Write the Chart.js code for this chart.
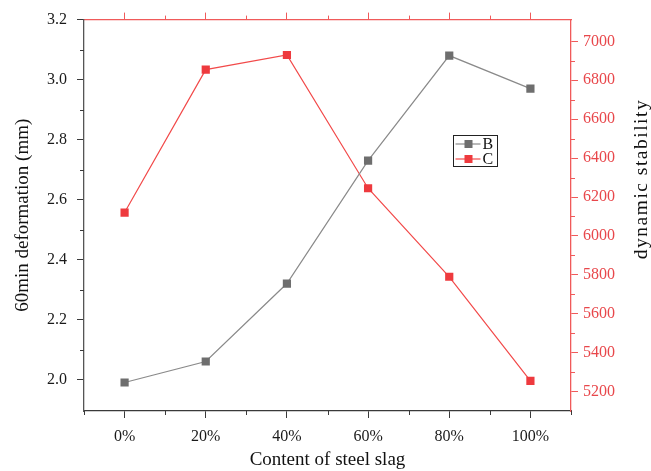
<!DOCTYPE html>
<html>
<head>
<meta charset="utf-8">
<script src="https://cdn.jsdelivr.net/npm/chart.js@4.4.1/dist/chart.umd.min.js"></script>
<style>
  html, body { margin: 0; padding: 0; background: #fff; }
  #wrap { width: 651px; height: 471px; }
</style>
</head>
<body>
<div id="wrap"><canvas id="chart"></canvas></div>
<script>
// steel slag content vs. rutting test results
var categories = ['0%', '20%', '40%', '60%', '80%', '100%'];
var deformationB = [1.99, 2.06, 2.32, 2.73, 3.08, 2.97];   // 60min deformation (mm)
var stabilityC = [6120, 6855, 6930, 6245, 5790, 5255];     // dynamic stability
var leftTicks = [2.0, 2.2, 2.4, 2.6, 2.8, 3.0, 3.2];
var rightTicks = [5200, 5400, 5600, 5800, 6000, 6200, 6400, 6600, 6800, 7000];

var FONT = "'Liberation Serif', 'DejaVu Serif', serif";
var GREY = '#6e6e6e';
var RED = '#ee3a3e';
var AXIS_DARK = '#3a3a3a';
var AXIS_RED = '#f05a5a';

Chart.defaults.font.family = FONT;
Chart.defaults.font.size = 16;

function setTicks(list) {
  return function (scale) {
    scale.ticks = list.map(function (v) { return { value: v }; });
  };
}

function fixWidth(w) { return function (scale) { scale.width = w; }; }
function fixHeight(h) { return function (scale) { scale.height = h; }; }

// short minor ticks half way between the major ones, plus right title and legend
var extras = {
  id: 'extras',
  afterDraw: function (chart) {
    var ctx = chart.ctx;
    var a = chart.chartArea;
    var s = chart.scales;
    ctx.save();
    ctx.lineWidth = 1;

    // left minor ticks
    ctx.strokeStyle = AXIS_DARK;
    for (var i = 0; i < leftTicks.length - 1; i++) {
      var y = Math.round(s.y.getPixelForValue((leftTicks[i] + leftTicks[i + 1]) / 2)) + 0.5;
      ctx.beginPath(); ctx.moveTo(a.left - 4, y); ctx.lineTo(a.left, y); ctx.stroke();
    }
    // bottom minor ticks (between categories and at the ends)
    for (var j = -1; j < categories.length; j++) {
      var x = Math.round(s.x.getPixelForValue(j + 0.5)) + 0.5;
      ctx.beginPath(); ctx.moveTo(x, a.bottom); ctx.lineTo(x, a.bottom + 4); ctx.stroke();
    }
    // right minor ticks
    ctx.strokeStyle = AXIS_RED;
    for (var k = 0; k < rightTicks.length - 1; k++) {
      var yr = Math.round(s.y1.getPixelForValue((rightTicks[k] + rightTicks[k + 1]) / 2)) + 0.5;
      ctx.beginPath(); ctx.moveTo(a.right, yr); ctx.lineTo(a.right + 4, yr); ctx.stroke();
    }
    // top minor ticks
    for (var m = 0; m < categories.length - 1; m++) {
      var xt = Math.round(s.xTop.getPixelForValue(m + 0.5)) + 0.5;
      ctx.beginPath(); ctx.moveTo(xt, a.top); ctx.lineTo(xt, a.top - 4); ctx.stroke();
    }

    // right axis title, reading bottom to top
    ctx.fillStyle = '#111';
    ctx.font = '19.5px ' + FONT;
    ctx.letterSpacing = '1.5px';
    ctx.textAlign = 'center';
    ctx.textBaseline = 'middle';
    ctx.translate(642, 179);
    ctx.rotate(-Math.PI / 2);
    ctx.fillText('dynamic stability', 0, 0);
    ctx.setTransform(1, 0, 0, 1, 0, 0);
    ctx.letterSpacing = '0px';

    // legend box
    var bx = 453.5, by = 135.5, bw = 44, bh = 31;
    ctx.strokeStyle = '#222';
    ctx.strokeRect(bx, by, bw, bh);
    ctx.font = '16px ' + FONT;
    ctx.textAlign = 'left';
    chart.data.datasets.forEach(function (ds, n) {
      var ly = by + 8.5 + n * 15;
      ctx.strokeStyle = ds.borderColor;
      ctx.lineWidth = 1.2;
      ctx.beginPath(); ctx.moveTo(bx + 2, ly); ctx.lineTo(bx + 27, ly); ctx.stroke();
      ctx.fillStyle = ds.pointBackgroundColor;
      ctx.fillRect(bx + 11, ly - 4, 8, 8);
      ctx.fillStyle = '#111';
      ctx.fillText(ds.label, bx + 29, ly + 1);
    });
    ctx.restore();
  }
};

new Chart(document.getElementById('chart'), {
  type: 'line',
  data: {
    labels: categories,
    datasets: [{
      label: 'B',
      data: deformationB,
      yAxisID: 'y',
      borderColor: '#8a8a8a',
      borderWidth: 1.2,
      pointBackgroundColor: GREY,
      pointBorderColor: GREY,
      pointBorderWidth: 0,
      pointStyle: 'rect',
      pointRadius: 5.8,
      tension: 0
    }, {
      label: 'C',
      data: stabilityC,
      yAxisID: 'y1',
      borderColor: '#f24a4a',
      borderWidth: 1.2,
      pointBackgroundColor: RED,
      pointBorderColor: RED,
      pointBorderWidth: 0,
      pointStyle: 'rect',
      pointRadius: 5.8,
      tension: 0
    }]
  },
  options: {
    responsive: true,
    maintainAspectRatio: false,
    animation: false,
    events: [],
    layout: { padding: 0 },
    plugins: { legend: { display: false }, tooltip: { enabled: false } },
    scales: {
      x: {
        type: 'category',
        position: 'bottom',
        offset: true,
        afterFit: fixHeight(60),
        grid: { drawOnChartArea: false, tickLength: 7, tickColor: AXIS_DARK, offset: false },
        border: { color: AXIS_DARK, width: 1.3 },
        ticks: { color: '#1a1a1a', padding: 9, font: { family: FONT, size: 16 }, maxRotation: 0 },
        title: { display: true, text: 'Content of steel slag', color: '#111', padding: { top: 0, bottom: 0 },
                 font: { family: FONT, size: 19 } }
      },
      xTop: {
        type: 'category',
        position: 'top',
        offset: true,
        afterFit: fixHeight(16),
        grid: { drawOnChartArea: false, tickLength: 7, tickColor: AXIS_RED, offset: false },
        border: { color: AXIS_RED, width: 1.3 },
        ticks: { display: false }
      },
      y: {
        type: 'linear',
        position: 'left',
        min: 1.895,
        max: 3.2,
        afterBuildTicks: setTicks(leftTicks),
        afterFit: fixWidth(84),
        grid: { drawOnChartArea: false, tickLength: 7, tickColor: AXIS_DARK },
        border: { color: '#555', width: 1.3 },
        ticks: { color: '#1a1a1a', padding: 10, font: { family: FONT, size: 16 },
                 callback: function (v) { return v.toFixed(1); } },
        title: { display: true, text: '60min deformation (mm)', color: '#111', padding: { top: 12, bottom: 0 },
                 font: { family: FONT, size: 19 } }
      },
      y1: {
        type: 'linear',
        position: 'right',
        min: 5100,
        max: 7112,
        afterBuildTicks: setTicks(rightTicks),
        afterFit: fixWidth(80),
        grid: { drawOnChartArea: false, tickLength: 7, tickColor: AXIS_RED },
        border: { color: AXIS_RED, width: 1.3 },
        ticks: { color: '#e8474b', padding: 5, font: { family: FONT, size: 16 },
                 callback: function (v) { return String(v); } }
      }
    }
  },
  plugins: [extras]
});
</script>
</body>
</html>
